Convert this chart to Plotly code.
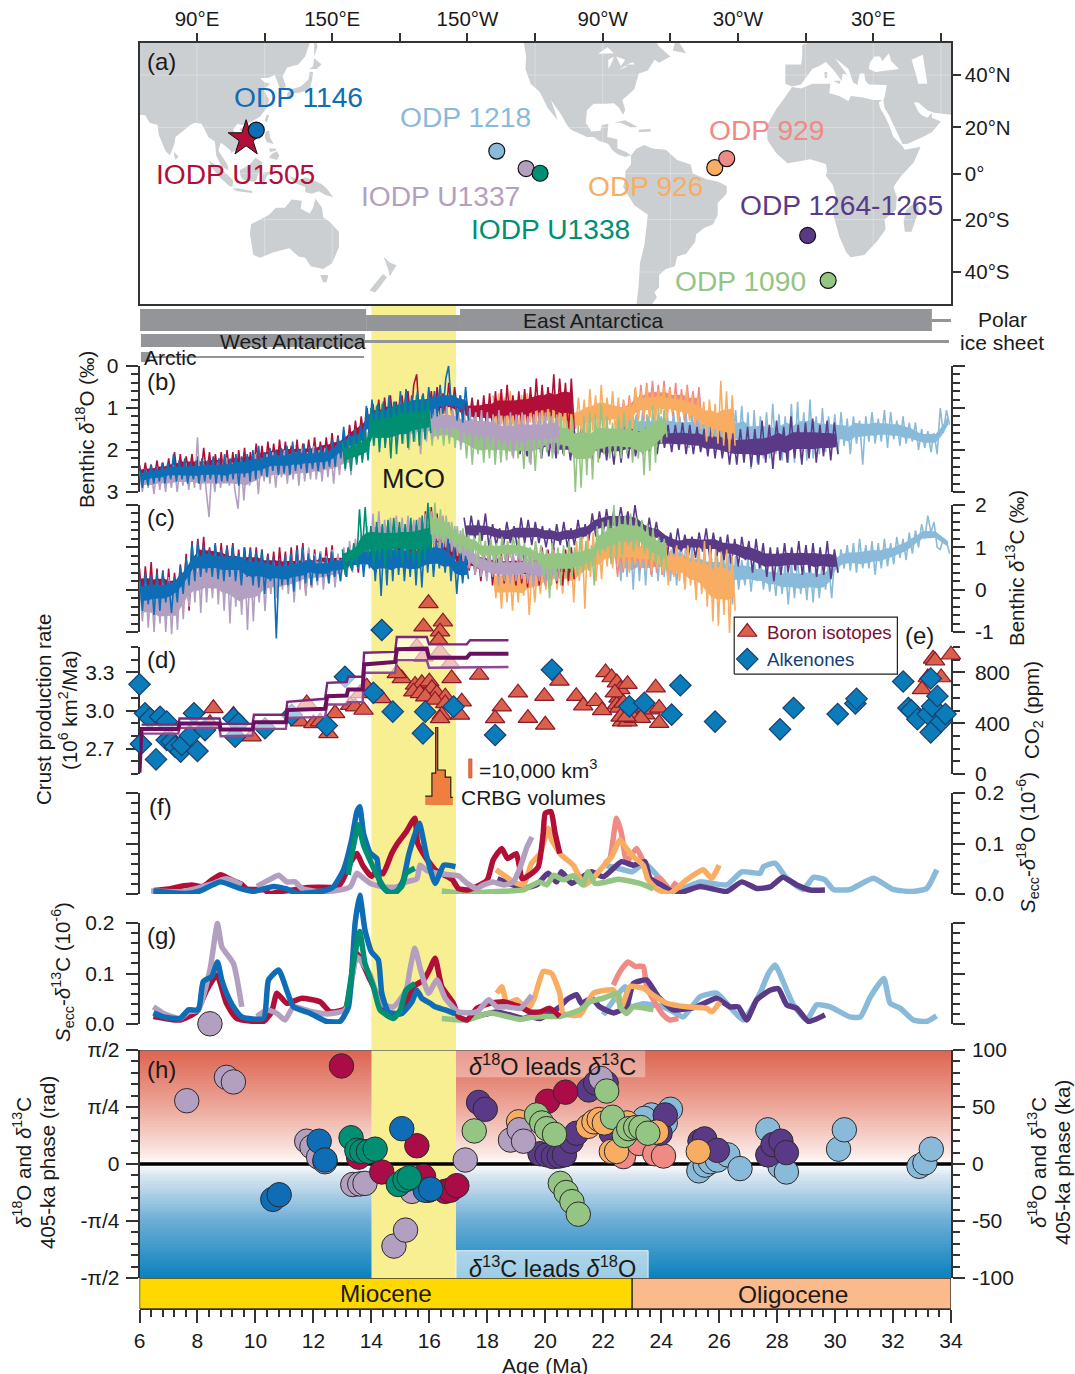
import numpy as np
import plotly.graph_objects as go

W, H = 1075, 1374
FONT = "Liberation Sans"
INK = "#1a1a1a"
AX = "#333333"

C1146, C1505, C1337, C1338 = "#0e6db5", "#b20f38", "#b3a0c1", "#008f73"
C1218, C1090, C926, C929, C1264 = "#8abada", "#94c582", "#f8ad62", "#ef8a85", "#5a3a87"

# ---------- benthic d18O (per mil), read as up/down excursions ----------
b_1146 = [2.4,2.9,2.45,2.85,2.35,2.8,2.4,2.75,2.3,2.8, 2.3,2.7,2.1,2.75,2.25,2.7,2.2,2.8,2.3,2.7,
 2.25,2.8,2.2,2.75,2.25,2.7,2.15,2.8,2.2,2.75, 2.1,2.75,2.2,2.7,2.1,2.85,2.15,2.65,2.1,2.75,
 2.0,2.7,1.9,2.6,2.05,2.65,1.95,2.5,2.0,2.6, 1.95,2.55,1.9,2.6,1.8,2.5,1.95,2.45,1.85,2.55,
 1.9,2.45,1.95,2.5,1.9,2.45,1.9,2.4,1.75,2.4, 1.7,2.2,1.45,2.1,1.6,2.15,1.5,2.0,1.4,1.9,
 0.95,1.65,0.8,1.7,0.9,1.55,0.85,1.6,0.7,1.5, 0.85,1.45,0.6,1.4,0.55,1.35,0.7,1.45,0.6,1.3,
 0.65,1.3,0.5,1.25,0.6,1.2,0.45,1.15,0.3,0.0, 1.0,0.65,1.3,0.7,1.35,0.5,1.3]
b_1337 = [2.5,3.0,2.45,2.9,2.5,3.05,2.4,2.95,2.45,3.0, 2.4,2.9,2.35,3.0,2.4,2.85,2.3,2.95,2.4,2.9,
 1.7,2.95,2.3,3.0,3.6,2.35,3.0,2.3,2.9,2.25, 2.2,2.85,2.3,3.0,3.4,2.2,3.2,2.25,2.85,2.3,
 2.1,3.05,2.2,2.75,2.1,2.8,2.05,2.9,2.2,2.65, 2.0,2.8,2.1,2.7,2.05,2.85,1.95,2.75,2.05,2.7,
 1.9,2.7,2.0,2.75,1.95,2.65,2.0,2.8,1.9,2.6, 1.8,2.5,1.75,2.6,1.65,2.3,1.6,2.2,1.4,2.1,
 1.1,1.9,1.0,1.95,1.1,1.85,1.0,1.8,1.05,1.9, 1.0,1.85,0.9,2.0,1.0,1.8,1.1,2.1,1.0,1.8,
 1.0,1.75,0.9,1.7,1.0,1.65,0.95,1.7,1.0,1.5, 1.0,1.9,1.05,1.75,1.0,1.95,1.1,1.8,1.05,2.0,
 1.1,1.9,1.15,2.05,1.05,1.9,1.2,2.0,1.1,2.2, 1.15,1.95,1.1,2.1,1.2,2.35,1.15,2.0,1.1,1.95,
 1.1,2.0,1.2,2.05,1.15,1.9]
b_1505 = [2.35,2.75,2.3,2.8,2.35,2.7,2.25,2.75,2.3,2.7, 2.2,2.7,2.05,2.65,2.1,2.75,2.15,2.6,2.1,2.7,
 2.15,2.7,1.95,2.6,2.05,2.75,2.1,2.65,2.05,2.7, 2.0,2.65,2.05,2.8,2.0,2.6,1.95,2.7,2.05,2.55,
 1.85,2.5,1.9,2.55,1.8,2.45,1.85,2.55,1.75,2.5, 1.8,2.4,1.9,2.5,1.75,2.45,1.85,2.35,1.75,2.4,
 1.7,2.35,1.8,2.4,1.7,2.3,1.6,2.3,1.65,2.2, 1.55,2.1,1.4,2.0,1.3,1.9,1.2,1.8,1.0,1.7,
 0.9,1.5,0.8,1.6,0.75,1.5,0.7,1.45,0.85,1.4, 0.7,1.4,0.6,1.3,0.45,0.2,1.35,0.7,1.3,1.25,
 0.6,1.25,0.5,1.2,0.65,1.2,0.4,1.15,0.5,1.1, 0.7,1.3,0.8,1.35,0.75,1.4,0.8,1.45,0.7,1.5,
 0.65,1.5,0.6,1.4,0.55,1.45,0.45,1.35,0.7,1.5, 0.6,1.45,0.55,1.4,0.5,1.35,0.3,1.3,0.45,1.3,
 0.5,1.25,0.2,1.45,0.3,1.2,0.4,1.6,0.3,1.5]
b_1338 = [1.8,2.45,1.75,2.5,1.7,2.35,1.65,2.3,1.55,2.25, 1.0,1.9,0.95,2.05,0.9,1.95,1.0,2.2,0.85,2.1,
 0.9,1.85,0.8,1.95,0.85,1.8,0.7,1.9,0.75,1.75, 0.8,1.6]
b_1218 = [1.0,1.7,1.1,1.8,1.0,1.6,1.15,1.9, 1.1,1.75,1.2,1.8,1.05,1.85,1.2,1.7, 1.15,1.9,1.1,1.8,1.2,1.75,1.1,1.95,
 1.1,1.9,1.2,2.0,1.1,1.85,1.25,1.95, 1.15,2.0,1.25,1.85,1.1,2.0,1.05,1.95, 0.95,2.1,1.1,2.45,1.05,2.3,1.2,2.2,
 1.1,2.2,0.9,2.1,1.15,2.25,1.2,2.3, 0.9,2.3,0.85,2.2,1.1,2.25,0.8,2.2, 1.2,2.1,1.0,2.05,1.2,1.95,1.15,2.1,
 1.1,1.9,1.25,2.1,1.2,1.85,1.3,2.35, 1.2,1.8,1.1,1.85,1.25,1.8,1.05,1.95, 1.1,1.75,1.3,1.9,1.2,1.85,1.35,1.8,
 1.35,2.0,1.5,1.95,1.55,2.05,1.6,2.1,1.0,1.6,1.05,1.4]
b_1264 = [1.5,2.1,1.6,2.15,1.55,2.0,1.6,2.2, 1.4,2.15,1.5,2.2,1.45,2.1,1.55,2.25, 1.5,2.2,1.45,2.1,1.6,2.3,1.5,2.2,
 1.5,2.25,1.6,2.35,1.55,2.3,1.45,2.2, 1.5,2.15,1.55,2.1,1.45,2.05,1.5,2.1, 1.35,1.95,1.4,2.05,1.4,2.0,1.35,2.1,
 1.4,2.1,1.45,2.05,1.5,2.15,1.45,2.2, 1.5,2.2,1.55,2.35,1.6,2.35,1.5,2.3, 1.45,2.4,1.5,2.35,1.3,2.3,1.4,2.45,
 1.3,2.25,1.45,2.3,1.2,2.2,1.4,2.35, 1.35,2.2,1.25,2.3,1.4,2.15,1.3,2.25, 1.35,2.1]
b_1090 = [1.2,1.9,1.1,1.75,1.2,1.9,1.15,1.85,1.05,1.95, 1.2,2.0,1.25,2.2,1.3,2.35,1.2,2.1,1.3,2.3,
 1.4,2.2,1.3,2.35,1.4,2.3,1.45,2.25,1.35,2.15, 1.3,2.2,1.4,2.45,1.35,2.3,1.4,2.5,1.3,2.2,
 1.2,2.05,1.1,2.2,1.3,2.1,1.15,2.15,1.3,2.05, 1.25,3.0,1.4,2.9,1.2,2.6,1.1,2.7,1.15,2.3,
 0.9,2.1,1.2,2.2,1.35,2.15,1.2,2.2,1.1,2.1, 1.3,2.3,1.25,2.2,1.3,2.6,1.15,2.5,0.95,2.3, 1.0,1.85,1.05,1.7]
b_926 = [0.7,1.5,0.65,1.4,0.75,1.5,0.6,1.4,0.8,1.5, 0.7,1.4,0.65,1.35,0.75,1.4,0.7,1.4,0.7,1.3,
 0.8,1.4,0.75,1.45,0.85,1.5,0.95,1.6,1.0,1.5, 0.75,1.6,0.8,1.7,0.55,1.55,0.7,1.6,0.45,1.5,
 0.75,1.4,0.6,1.6,0.75,1.5,0.85,1.55,0.8,1.5, 0.5,1.3,0.6,1.2,0.45,1.25,0.6,1.3,0.55,1.15,
 0.5,1.3,0.55,1.1,0.65,1.35,0.7,1.2,0.55,1.3, 0.7,1.4,0.75,1.5,0.85,1.8,0.8,1.7,0.9,1.85,
 0.35,1.9,0.6,2.05,0.7,1.9]
b_929 = [0.9,1.5,0.8,1.6,0.7,1.4,0.55,1.3,0.45,1.3, 0.4,1.2,0.35,1.2,0.45,1.1,0.35,1.25,0.5,1.2,
 0.4,1.3,0.55,1.3,0.45,1.25,0.6,1.4,0.5,1.35]

# ---------- benthic d13C (per mil) ----------
c_1146 = [0.3,-0.5,0.4,-0.35,0.35,-0.6,0.4,-0.5,0.45,-0.3, 0.2,-0.55,0.3,-0.3,0.55,-0.1,0.75,0.1,1.1,0.2,
 1.15,0.3,1.05,0.4,0.95,0.3,1.1,0.25,0.95,0.2, 1.0,0.3,1.05,0.2,0.85,0.1,1.0,0.3,0.95,0.1,
 0.9,0.05,0.95,-0.1,0.8,0.2,0.75,-1.15,0.7,0.1, 0.8,0.1,0.85,-0.05,0.95,0.2,1.0,0.15,0.85,0.1,
 0.8,0.2,0.85,0.3,0.75,0.15,0.9,0.3,0.7,0.2, 0.85,0.3,0.95,0.45,1.0,0.5,1.05,0.3,1.2,0.5,
 1.3,0.2,1.2,-0.15,1.25,0.1,1.35,0.2,1.3,0.35, 1.2,0.2,1.15,0.3,1.3,0.1,1.25,0.05,1.3,0.4,
 1.3,0.3,1.15,0.5,1.1,0.4,1.2,0.2,1.0,-0.1, 0.85,0.15,0.8,0.25]
c_1337 = [0.2,-0.75,0.3,-0.9,0.2,-1.0,0.3,-0.8,0.25,-1.0, 0.3,-1.05,0.2,-0.95,0.4,-0.7,0.55,-0.4,0.7,-0.3,
 0.95,-0.55,0.9,-0.3,0.85,-0.2,0.95,-0.35,0.9,-0.5, 0.85,-0.8,0.8,-0.4,0.8,-0.6,0.75,-0.95,0.85,-0.75,
 0.7,-0.3,0.7,-0.5,0.6,-0.1,0.65,-0.2,0.6,0.0, 0.75,-0.1,0.8,-0.3,0.9,0.0,0.95,-0.15,1.0,0.05,
 0.85,0.1,0.9,0.0,0.8,0.15,0.95,0.05,0.85,0.2, 1.0,0.3,1.15,0.4,1.2,0.5,1.3,0.5,1.5,0.6,
 1.8,0.8,1.85,0.9,1.65,1.0,1.7,0.9,1.75,1.0, 1.7,0.9,1.75,1.05,1.65,0.95,1.7,1.05,1.8,0.95,
 1.85,1.0,1.7,0.9,1.75,1.0,1.6,0.9,1.5,0.8, 1.4,0.6,1.2,0.5,1.1,0.35,0.95,0.3,0.85,0.2,
 0.85,0.3,0.9,0.1,0.8,0.2,0.85,0.15,0.9,0.2, 0.95,0.25,0.85,0.15,0.9,0.05,1.0,0.2,0.9,0.1, 0.85,0.1,0.95,0.2,0.8]
c_1505 = [0.5,-0.4,0.55,-0.3,0.65,-0.5,0.5,-0.7,0.45,-0.4, 0.5,-0.6,0.4,-0.3,0.6,-0.2,0.85,-0.5,1.15,0.0,
 1.2,0.4,1.25,0.3,1.0,0.5,1.05,0.2,1.1,0.3, 1.05,0.4,1.1,0.1,0.95,0.2,1.0,0.3,1.0,0.2,
 1.0,0.2,0.95,0.1,0.85,0.2,0.9,0.0,1.0,0.2, 0.9,0.1,1.0,0.0,1.05,0.2,1.1,-0.1,0.95,0.05,
 0.95,0.25,0.9,0.15,1.0,0.3,1.05,0.2,0.8,0.3, 0.9,0.3,1.0,0.5,1.05,0.4,1.15,0.5,1.25,0.6,
 1.3,0.4,1.35,0.5,1.4,0.6,1.3,0.5,1.45,0.6, 1.4,0.5,1.45,0.7,1.4,0.6,1.7,0.9,1.85,1.0,
 1.95,0.9,1.8,0.8,1.5,0.7,1.35,0.6,1.2,0.5, 1.1,0.4,1.0,0.45,1.05,0.35,0.9,0.2,0.95,0.3,
 0.95,0.1,0.9,0.3,0.85,0.15,0.95,0.25,0.85,0.1, 0.9,0.15,1.0,0.05,0.85,0.2,0.9,0.1,1.0,0.15,
 0.95,0.2,1.0,0.15,0.85,0.1,0.95,0.2,1.0,0.25]
c_1338 = [0.95,0.35,1.0,0.5,1.1,0.6,1.9,0.9,1.95,0.8, 1.5,0.55,1.6,0.7,1.55,0.5,1.65,0.75,1.7,0.8,
 1.6,0.6,1.55,0.75,1.7,0.65,1.65,0.5,1.75,0.7, 2.05,0.9]
c_1218 = [1.2,0.2,1.3,0.3,1.4,0.0,1.35,0.2, 1.3,0.1,1.25,0.3,1.3,0.2,1.2,0.3, 1.2,0.2,1.1,0.1,1.0,0.4,1.05,0.3,
 1.0,0.1,0.95,0.2,0.9,0.05,1.0,-0.1, 0.9,-0.1,0.85,0.1,0.9,-0.35,0.8,0.0, 0.7,0.1,0.75,-0.05,0.65,0.2,0.7,0.0,
 0.6,-0.05,0.55,-0.15,0.65,-0.1,0.6,-0.35, 0.65,-0.2,0.7,-0.1,0.55,-0.25,0.7,-0.3, 0.65,-0.2,0.7,0.0,0.6,-0.2,0.85,0.4,
 0.95,0.5,1.05,0.45,1.1,0.4,1.2,0.5, 1.05,0.5,1.15,0.35,1.1,0.5,1.2,0.55, 1.1,0.6,1.25,0.75,1.2,0.7,1.35,0.85,
 1.4,1.0,1.55,1.2,1.75,1.35,1.6,1.0,0.95,1.2,1.15,0.85]
c_1264 = [1.7,1.1,1.75,1.2,1.65,1.15,1.8,1.0, 1.55,1.05,1.45,1.0,1.6,1.1,1.5,0.95, 1.7,1.1,1.65,1.05,1.6,1.1,1.5,1.0,
 1.45,0.95,1.55,1.05,1.6,1.0,1.45,1.05, 1.65,1.1,1.55,1.15,1.8,1.25,1.85,1.3, 1.9,1.35,1.85,1.4,1.95,1.45,1.85,1.3,
 2.0,1.4,1.6,1.1,1.7,1.15,1.6,1.05, 1.3,0.8,1.35,0.85,1.45,0.9,1.3,0.8, 1.25,0.75,1.35,0.9,1.45,0.75,1.35,0.8,
 1.25,0.7,1.3,0.6,1.2,0.55,1.25,0.7, 1.15,0.4,1.2,0.5,1.1,0.3,1.0,0.2, 1.0,0.35,1.1,0.4,1.0,0.45,1.15,0.35,
 1.05,0.4,1.1,0.3,1.0,0.35,1.15,0.25,0.95,0.4]
c_1090 = [1.95,1.1,2.05,1.15,1.9,1.0,1.75,1.1,1.6,0.95, 1.5,0.8,1.45,0.9,1.3,0.85,1.25,0.6,1.35,0.75,
 1.15,0.7,1.2,0.65,1.1,0.6,1.25,0.7,1.15,0.75, 1.25,0.8,1.2,0.7,1.1,0.6,1.0,0.55,1.15,0.65,
 1.05,0.3,0.95,-0.2,1.1,0.25,1.0,0.1,1.05,0.3, 1.15,0.3,1.0,0.35,1.25,0.4,1.15,0.45,1.05,0.1,
 1.5,0.8,1.6,0.9,1.65,0.6,2.0,0.75,1.75,0.8, 1.75,1.05,1.8,0.9,1.7,1.0,1.65,0.85,1.55,0.7, 1.45,0.6,1.25,0.55,1.2,0.45]
c_926 = [0.7,-0.2,0.65,-0.45,0.6,-0.3,0.55,-0.5,0.7,-0.3, 0.6,-0.15,0.7,-0.6,0.55,-0.3,0.6,-0.1,0.7,0.0,
 0.85,0.1,0.9,0.0,0.85,-0.1,0.95,0.1,1.0,-0.3, 1.15,0.2,1.25,-0.45,1.3,0.3,1.35,0.2,1.2,0.25,
 1.3,0.55,1.4,0.5,1.45,0.6,1.35,0.5,1.3,0.4, 1.3,0.6,1.35,0.55,1.25,0.5,1.2,0.45,1.25,0.5,
 1.0,0.4,1.1,0.1,0.95,0.3,1.05,0.2,0.9,0.0, 1.05,0.1,0.85,-0.25,1.0,-0.1,1.15,-0.4,1.05,-0.75,
 0.95,-0.85,0.9,-0.6,0.95,-1.02,0.8,-0.5]
c_929 = [1.0,0.3,1.1,0.4,1.2,0.5,1.3,0.5,1.25,0.45,1.3,0.5,1.1,0.35,1.0,0.4,1.05,0.35,0.95,0.3,0.9,0.35,1.0,0.4,0.85,0.15,0.95,0.3]

# ---------- crust production ----------
crust_age_c = [6.0,6.07,7.34,7.38,8.76,8.8,9.9,9.95,11.05,11.1,12.4,12.48,13.15,13.2,13.7,13.75,14.82,14.88,15.91,15.99,17.29,17.41,18.73]
crust_mid = [2.51,2.855,2.855,2.897,2.897,2.85,2.85,2.908,2.908,3.003,3.013,3.113,3.118,3.166,3.166,3.363,3.382,3.482,3.487,3.416,3.416,3.447,3.447]
crust_age = crust_age_c[1:]
crust_up = [2.889,2.889,2.937,2.937,2.895,2.895,2.966,2.966,3.068,3.092,3.218,3.224,3.266,3.266,3.455,3.461,3.579,3.579,3.521,3.521,3.553,3.553]
crust_lo = [2.818,2.818,2.863,2.863,2.797,2.803,2.855,2.855,2.942,2.95,3.047,3.047,3.066,3.066,3.297,3.297,3.397,3.397,3.337,3.337,3.342,3.342]

# ---------- CO2 proxies ----------
boron_age = [7.0,8.55,9.24,9.87,8.43,11.77,11.54,12.0,12.23,12.52,12.75,13.27,13.44,13.73,13.61,13.84,14.36,15.05,14.88,15.97,15.8,16.47,16.37,16.32,15.8,15.57,16.37,16.72,17.72,16.77,15.51,15.74,16.0,16.09,16.26,16.55,15.45,15.68,15.86,16.2,16.55,17.12,17.06,16.43,16.37,18.5,18.27,
 19.06,19.97,20.49,19.4,20.0,21.07,21.31,21.74,21.96,22.08,22.29,22.47,22.59,22.84,22.53,22.47,22.71,22.65,22.84,22.96,23.2,23.45,23.63,23.81,23.93,23.93,22.4,22.55,22.7,22.9,23.05,22.6,23.3,22.8,33.0,33.2,33.38,33.45,33.66,34.0]
boron_ppm = [412,517,465,294,399,556,412,399,412,320,478,543,530,504,635,688,596,753,793,1344,1160,1199,1121,1055,924,1003,963,871,780,753,701,714,727,675,635,609,648,635,609,583,556,570,465,465,438,530,438,
 640,613,733,440,387,613,539,573,501,800,760,720,667,707,600,547,480,413,413,453,480,467,507,680,520,400,640,520,560,520,440,450,440,450,667,760,907,893,760,939]
alk_age = [6.0,6.19,6.36,6.71,6.94,6.05,6.57,6.94,7.11,7.23,7.42,7.46,7.74,7.88,8.0,8.26,9.24,9.41,9.3,10.33,11.25,12.46,13.09,14.07,14.36,14.74,15.86,15.78,16.84,18.27,
 20.23,22.9,23.42,24.66,24.36,25.86,28.1,28.57,30.09,30.7,30.74,32.35,32.53,32.63,32.84,33.2,33.3,33.3,33.35,33.53,33.66,33.81]
alk_ppm = [706,478,438,451,412,236,115,268,255,215,176,228,302,478,181,346,438,399,294,360,465,381,766,640,1134,491,491,320,530,307,
 821,533,560,699,467,413,352,520,472,555,592,728,520,501,432,472,328,752,533,613,413,472]

# ---------- CRBG eruption volumes (km3 per age bin) ----------
crbg_edges = [15.86,16.09,16.22,16.29,16.55,16.74,16.81]
crbg_volume = [4700,16800,41000,18400,14700,4000,4000]

# ---------- Secc-d18O ----------
f_1505_a = [6.5,7.0,7.4,7.8,8.2,8.5,8.8,9.1,9.5,9.7,10.3,10.5,10.9,11.3,11.8,12.6,12.8,13.0,13.3,13.5,13.7,14.0,14.2,14.4,14.7,14.9,15.2,15.5,15.6,15.9,16.1,16.2,16.5,16.8,17.0,17.3,17.6,18.0,18.2,18.5,18.7,19.0,19.1,19.2,19.47,19.76,19.93,20.0,20.2,20.33,20.5]
f_1505_v = [.007,.01,.015,.018,.015,.028,.038,.03,.02,.01,.008,.001,.005,.008,.013,.013,.011,.026,.064,.08,.057,.035,.047,.04,.08,.1,.123,.15,.1,.07,.055,.048,.038,.028,.011,.008,.014,.028,.067,.09,.07,.08,.057,.03,.038,.054,.12,.16,.163,.123,.08]
f_1337_a = [6.4,7.5,8.5,9.0,9.53,None,10.05,10.5,10.8,11.08,11.37,11.6,12.1,12.8,13.27,13.5,13.73,13.96,14.4,14.88,15.2,15.57,15.68,15.9,16.26,16.7,17.0,17.3,17.64,17.87,18.2,18.56,18.9,19.14,19.37,19.54]
f_1337_v = [.006,.005,.02,.03,.018,None,.015,.029,.037,.024,.024,.011,.005,.007,.014,.041,.031,.021,.014,.014,.024,.03,.057,.047,.041,.038,.036,.021,.011,.018,.024,.018,.024,.054,.093,.113]
f_1146_a = [6.48,7.63,8.09,8.78,9.47,9.93,10.62,11.08,11.43,12.35,12.69,13.04,13.32,13.5,13.6,13.73,13.96,14.19,14.3,14.6,14.88,15.1,15.3,15.65,15.9,16.2,16.5,16.9]
f_1146_v = [.006,.001,.006,.024,.011,.005,.015,.01,.001,.006,.014,.048,.107,.163,.173,.12,.081,.07,.021,.003,.005,.028,.08,.14,.077,.021,.057,.054]
f_1338_a = [13.2,13.38,13.55,13.73,14.0,14.25,14.5,14.75,15.05,15.2,15.5]
f_1338_v = [.038,.094,.137,.097,.061,.031,.008,.001,.015,.041,.051]
f_1090_a = [16.43,17.2,18.3,19.25,19.47,19.8,20.05,20.28,20.62,20.97,21.3,21.48,21.72,22.12,22.52,23.27,23.73]
f_1090_v = [.006,.001,.005,.008,.015,.024,.018,.037,.028,.036,.018,.044,.021,.024,.029,.021,.01]
f_926_a = [18.3,18.65,18.9,19.25,19.53,19.82,20.1,20.22,20.56,20.97,21.2,21.37,21.6,21.94,22.29,22.58,22.8,23.04,23.38,23.55,23.84,24.3,24.88,25.45,25.74,26.0]
f_926_v = [.048,.034,.024,.018,.061,.08,.13,.107,.077,.057,.031,.018,.028,.051,.074,.107,.09,.074,.057,.028,.01,.001,.028,.048,.031,.057]
f_929_a = [22.06,22.23,22.46,22.63,22.81,23.15,23.44,23.67,23.96,24.3,24.53]
f_929_v = [.061,.07,.15,.12,.064,.09,.057,.028,.031,.008,.024]
f_1264_a = [18.35,19.25,19.7,20.1,20.39,20.56,20.91,21.2,21.6,22.0,22.63,23.04,23.44,23.61,24.0,24.53,25.34,26.26,26.78,27.3,27.76,28.2,28.68,29.14,29.65]
f_1264_v = [.03,.012,.018,.041,.024,.044,.021,.031,.044,.034,.064,.057,.064,.031,.018,.001,.015,.005,.024,.011,.014,.033,.018,.008,.008]
f_1218_a = [22.0,22.7,23.0,23.44,24.4,25.34,26.26,26.78,27.41,27.53,27.93,28.33,28.9,29.25,29.65,29.94,30.52,31.32,32.0,32.65,33.16,33.51]
f_1218_v = [.058,.048,.044,.061,.005,.024,.018,.044,.041,.054,.061,.031,.009,.033,.028,.009,.009,.031,.009,.005,.011,.048]

# ---------- Secc-d13C ----------
g_1146_a = [6.48,6.83,7.4,7.69,8.03,8.2,8.49,8.69,8.84,9.0,9.24,9.53,10.28,10.45,10.8,11.08,11.31,11.9,12.46,12.92,13.21,13.44,13.6,13.78,14.0,14.24,14.36,14.59,15.05,15.4,15.57,15.74,16.03,16.2,16.55,16.9]
g_1146_v = [.022,.014,.011,.028,.028,.084,.094,.123,.087,.061,.034,.014,.011,.087,.107,.067,.034,.021,.005,.005,.034,.2,.255,.186,.143,.127,.061,.024,.021,.044,.067,.051,.041,.034,.028,.02]
g_1505_a = [6.48,7.4,7.97,8.32,8.67,9.0,9.35,10.28,10.56,10.74,11.08,11.6,12.23,12.58,13.1,13.5,13.96,14.42,14.65,15.05,15.45,15.8,15.97,16.2,16.43,16.83,17.0,17.3,17.64,18.1,18.56,19.14,19.47,19.82,20.16,20.5]
g_1505_v = [.015,.008,.024,.067,.097,.041,.011,.005,.024,.061,.041,.051,.044,.024,.031,.14,.087,.034,.021,.021,.074,.087,.103,.13,.074,.041,.015,.008,.031,.041,.044,.034,.024,.024,.031,.015]
g_1337_a = [6.48,6.83,7.4,7.69,8.03,8.43,8.69,8.84,9.24,9.53,None,10.05,10.39,10.74,11.02,11.31,11.9,12.5,13.1,13.5,13.96,14.3,14.76,15.2,15.33,15.5,15.7,15.97,16.26,16.55,17.0,17.64,18.05,18.33,18.68,19.14,19.54]
g_1337_v = [.034,.021,.011,.024,.028,.107,.199,.153,.12,.034,None,.015,.028,.021,.008,.034,.025,.02,.028,.133,.097,.041,.034,.067,.107,.15,.107,.061,.087,.051,.024,.024,.048,.034,.034,.031,.057]
g_1338_a = [13.15,13.38,13.6,13.78,14.07,14.3,14.76,15.0,15.2,15.5]
g_1338_v = [.034,.12,.183,.12,.074,.028,.011,.028,.067,.08]
g_1090_a = [16.43,17.3,18.1,19.14,19.47,19.95,20.5,21.2,21.54,22.0,22.52,22.58,22.8,23.04,23.73]
g_1090_v = [.011,.008,.022,.009,.013,.015,.015,.028,.044,.051,.061,.034,.021,.034,.028]
g_926_a = [18.33,18.5,18.68,19.02,19.37,19.6,19.93,20.22,20.5,20.62,21.2,21.66,22.35,22.63,22.92,23.38,23.73,24.19,24.88,25.57,25.74,26.03]
g_926_v = [.061,.074,.041,.048,.028,.048,.104,.1,.061,.021,.018,.061,.067,.034,.074,.071,.057,.041,.034,.031,.024,.044]
g_929_a = [22.35,22.58,22.86,23.1,23.38,23.5,23.8,24.07,24.3,24.59]
g_929_v = [.077,.104,.123,.114,.114,.074,.041,.018,.008,.011]
g_1264_a = [17.64,18.33,19.25,19.47,19.82,20.5,20.74,21.08,21.25,21.6,21.88,22.35,22.8,23.04,23.5,23.9,24.42,25.22,25.91,26.37,26.66,26.95,27.3,27.76,28.04,28.33,28.68,29.08,29.65]
g_1264_v = [.015,.024,.011,.015,.011,.034,.048,.058,.041,.051,.034,.022,.034,.08,.087,.054,.028,.034,.051,.034,.034,.008,.048,.067,.07,.038,.031,.005,.018]
g_1218_a = [22.0,22.12,22.75,22.92,23.37,24.07,24.42,24.76,25.34,25.91,26.37,26.83,27.41,27.7,27.93,28.33,28.56,29.02,29.37,29.83,30.52,30.87,31.22,31.68,31.9,32.25,32.7,33.16,33.5]
g_1218_v = [.018,.028,.074,.034,.04,.034,.024,.014,.054,.061,.034,.008,.061,.1,.117,.067,.038,.008,.038,.034,.014,.014,.054,.09,.041,.031,.008,.005,.016]

# ---------- 405-ka phase (ka) ----------
h_1218_a = [23.66,23.42,24.32,24.14,25.3,25.52,25.7,25.94,26.3,26.72,27.68,28.1,28.32,30.12,30.32,32.9,33.1,33.32]
h_1218_v = [43,40,48,36,-6,-1,2,3.5,8,-4,30,-2,-7,13,30,-2,1,13]
h_929_a = [22.7,23.24,23.78,24.08]
h_929_v = [6.5,18,9,7]
h_1264_a = [17.7,17.93,19.82,20.06,20.28,20.48,20.66,20.9,21.08,21.5,21.74,22.1,22.28,23.96,24.14,25.34,25.5,25.94,27.68,27.86,28.13,28.32]
h_1264_v = [54,48,9,8,6.5,7,8,20,27,65,71,71,27,27,43,20,22,12,8,17,20,10]
h_926_a = [19.08,21.48,21.68,21.86,22.04,22.82,22.28,22.46,23.84,25.28]
h_926_v = [37,33,37,39,36,36,11,11,28,11]
h_1337_a = [7.63,9.0,9.24,11.77,11.95,12.18,12.4,13.36,13.6,13.78,14.78,15.18,15.4,15.7,17.24,18.8,19.1,19.25,21.92,8.43]
h_1337_v = [55.5,76,72,20,15,6,2,-18,-17.5,-17,-72,-58,-24,-15,3.5,21,30,20,75,123]
h_1505_a = [12.97,13.56,14.36,15.57,15.8,15.97,16.55,16.72,16.95,20.08,20.7]
h_1505_v = [86,6,-7,16,-11,-23,-24,-23,-19,55,63]
h_1090_a = [17.55,19.7,19.88,20.05,20.32,20.52,20.72,20.92,21.14,22.12,22.32,22.73,22.88,23.12,23.3,23.54]
h_1090_v = [29,43,36,31,26,-17,-25,-33,-44,64,41,25,31,32,32,27]
h_1146_a = [10.6,10.82,12.2,12.4,15.05,15.86,16.05]
h_1146_v = [-31,-27,20,3.5,31,-23,-22]
h_1338_a = [13.3,13.5,13.67,13.9,14.13,14.93,15.16,15.31]
h_1338_v = [23,12,11,11,13,-18,-14,-12]

# ---------- epochs, MCO, ice sheets ----------
epoch_names = ["Miocene", "Oligocene"]
epoch_start = [6, 23]
epoch_end = [23, 34]
epoch_colors = ["#ffd800", "#fbba8c"]
mco_start, mco_end = 14.0, 16.92

# ---------- map sites (lon east, unwrapped; lat) ----------
site_names = ["ODP 1218", "IODP U1337", "IODP U1338", "ODP 926", "ODP 929", "ODP 1264-1265", "ODP 1090", "ODP 1146"]
site_lon = [223, 236, 242.2, 319.7, 325, 360.9, 370, 116.3]
site_lat = [9.9, 2.2, 0.1, 2.6, 6.6, -26.5, -42.8, 18.9]
site_col = [C1218, C1337, C1338, C926, C929, C1264, C1090, C1146]
star_lon, star_lat = [111.8], [15.3]

LAND_EAST = [
 [(64.5,50),(140,50),(138,46),(135,43.5),(130,42.5),(128,39.5),(129.5,36),(127,34.5),(126,37),(124.5,40),(121.5,39),(118,39),(120,37.5),(122.5,37),(119.5,35),(122,31),(121,28),(118,24.5),(114,22.3),(110,21),(108,21.5),(106,19),(109,14),(109,11.5),(105,9),(105,10),(102,12.5),(100.5,13.5),(99.5,10),(103.5,4),(104,1.3),(101,3),(98.5,8),(98,14),(95,16),(94,18),(92,21.5),(89,22),(87,21),(80.5,16),(80,13),(78,8),(76,10),(73,17),(72.5,21),(69,22),(67,25),(64.5,25.2)],
 [(130,31.5),(131.5,31.5),(132,33.5),(135.5,33.7),(140,35),(141,38),(141.5,41),(140,41),(139.5,38.5),(136,36),(132,35),(130,33.5)],
 [(140,42),(143,42),(145.3,43.5),(142,45.5),(141.5,43)],
 [(142,46),(143.5,49),(143,50),(142,50)],
 [(120,23),(121,22),(122,25),(121,25.2)],
 [(108.7,19),(110,18.3),(111,20),(110,20)],
 [(80,9.5),(81.8,7.5),(80.5,6),(79.8,8)],
 [(120,16),(120.6,18.5),(122,18.5),(122.3,16),(124,13),(121,13.7)],
 [(122,7),(125.5,6),(126.5,8),(125.5,9.8),(123,8.5)],
 [(122,11),(125,11),(125,10),(122.5,9.5)],
 [(109,1.5),(111,2.5),(113,3.5),(116,7),(119,5),(118,2),(117.5,0.5),(116,-3.5),(114,-3.5),(110,-2.5),(109,0)],
 [(95.3,5.5),(98,4),(103,0),(106,-3),(105.8,-5.8),(104.5,-5.8),(100,-1.5),(97,2)],
 [(105.5,-6.8),(108,-6.5),(114.5,-7.7),(114.5,-8.6),(108,-7.8)],
 [(119.5,-5.5),(120.5,-2.5),(121,-1),(125,1.5),(121,0.5),(119.5,0.5),(119,-3)],
 [(131,-1),(135,-3),(138,-1.8),(141,-2.7),(145,-4.5),(147.5,-6.5),(150.5,-10.5),(147,-9.5),(144,-7.8),(141,-9),(138,-8.3),(138,-6),(133,-4)],
 [(114,-22),(113.5,-26),(115,-34),(118,-35),(124,-33),(131,-31.5),(135,-34.5),(138,-35),(140.5,-38),(146,-39),(150,-37),(153,-31),(153,-25),(149,-21),(146,-19),(145.5,-15),(142.5,-11),(141.5,-15),(140,-17.5),(136,-15.5),(136.5,-12),(132,-11.5),(129,-15),(125,-15),(122,-18),(117,-20.5)],
 [(144.7,-41),(148.3,-41),(147.5,-43.3),(146,-43.5)],
 [(172.7,-34.5),(175.5,-36.7),(178.5,-37.7),(175.5,-41.5),(174.8,-39)],
 [(172.5,-40.7),(174.3,-41.7),(171,-45),(169,-46.6),(166.5,-46),(171,-42)],
]
LAND_WEST = [
 [(-125,50),(-124,46),(-124.3,42),(-122,37),(-118,34),(-117,32.5),(-114.5,28),(-110,23),(-111,26),(-113,31),(-109,26),(-105.5,20.5),(-104,19),(-97,16),(-94,16),(-92,14.5),(-87.5,13),(-85.5,10),(-83,8.3),(-80,7.3),(-77.5,8),(-79.5,9.5),(-83.5,11),(-83.5,15),(-88,16),(-87.5,21.5),(-90.5,21),(-91,18.6),(-95,18.3),(-97.5,22),(-97,27),(-94,29.5),(-89,29.5),(-85,29.7),(-82.8,28),(-81,25.2),(-80,27),(-81.3,31),(-76,35),(-74,40.5),(-70,41.5),(-67,45),(-65,44),(-60,46),(-65,49),(-66,50)],
 [(-59,47.8),(-53,47),(-56,50),(-58,50)],
 [(-85,22),(-80,23),(-74.5,20.2),(-77.5,20),(-82,22)],
 [(-74,19),(-69,19.5),(-68.5,18.3),(-74,18)],
 [(-77.5,8),(-75,11),(-71.5,12.5),(-68,11),(-62,10.5),(-57,6),(-51,4),(-50,0),(-44,-2.5),(-39,-3.5),(-35,-5.5),(-35,-9),(-39,-13),(-39,-18),(-41,-22),(-45,-23.5),(-48.5,-26),(-49,-29),(-53,-33.5),(-57,-34.5),(-58,-38),(-62,-39),(-65,-41),(-65,-45),(-67,-46.5),(-66,-48),(-68,-50),(-75,-50),(-74,-44),(-73.5,-37),(-71.5,-30),(-70,-18),(-76,-14),(-81,-6),(-80,-2.5),(-80,1),(-77.5,4)],
 [(1,50),(-1.5,49.5),(-1.5,46),(-2,43.5),(-9,43.5),(-9,37),(-6,36),(-2,36.7),(0,39),(3,42),(6,43),(9,44.3),(12,42),(16,38),(16.5,40.5),(18.5,40),(13,45.5),(19,42),(21,37.5),(23,36.5),(24,40.5),(26,40.5),(26.5,38),(28,36.7),(36,36.5),(35,32),(34.5,31),(35,28),(37,25),(39,21),(43,13),(45,13),(52,16),(56,18),(60,22.5),(56,24),(56,26),(54,24),(51.5,25),(50,26.5),(48,30),(50,30),(54,27),(57,26),(64.5,25.2),(64.5,50)],
 [(-6,35.8),(-10,31),(-13,27.5),(-17,21),(-17,14.7),(-13,9),(-8,4.5),(-4,5.2),(2,6.3),(9,4.2),(9.5,1),(9,-1),(12,-5),(13.5,-10),(12,-17),(15,-27),(18,-33),(20,-34.8),(26,-34),(32,-28.5),(35.5,-24),(35,-20),(40,-16),(40.5,-10.5),(39,-6),(42,-1.5),(48,5),(51,11.8),(44,10.5),(43,12),(39,16),(37,21),(35.5,24),(33,28),(32.5,30),(34,31),(30,31),(25,32),(20,32.5),(19,30.5),(15,32.5),(10.5,33.5),(11,37),(3,37),(-2,35.3)],
 [(49.5,-12),(50.3,-16),(47,-25),(44,-25),(43.5,-21),(44.5,-16)],
 [(12.5,38),(15.5,38),(15,36.8)],
 [(8.3,41),(9.6,41),(9.5,39),(8.5,39)],
 [(-5.5,50),(-3,50.5),(1,50.8),(-3,51.5)],
]
WATER_WEST = [
 [(28,42),(28.5,44),(30.5,46),(33,46),(34,44.5),(37,47),(38,44.5),(41.5,42),(36,41.5),(31,41)],
 [(47,45),(52,46.5),(53,42),(54,37),(50,37),(49,40)],
 [(-92,46.8),(-85,47),(-88,48.8)],
 [(-87.5,42),(-86,44),(-85,46),(-87.5,45)],
 [(-84,46),(-80,45),(-82,43)],
 [(-83,41.7),(-79,42.8),(-80,43)],
 [(-79.5,43.5),(-76,43.5),(-76.5,44.2)],
]

lat_ticks = [40, 20, 0, -20, -40]
lat_labels = ["40°N", "20°N", "0°", "20°S", "40°S"]
lon_ticks = [90, 120, 150, 180, 210, 240, 270, 300, 330, 360, 390, 420]
lon_labels = ["90°E", "", "150°E", "", "150°W", "", "90°W", "", "30°W", "", "30°E", ""]


def merc(lat):
    return np.log(np.tan(np.pi / 4 + np.radians(lat) / 2))


def px_x(x):
    return x / W


def px_y(y):
    return 1 - y / H


def dom(top, bottom):
    return [px_y(bottom), px_y(top)]


def seq(start, end, vals):
    return np.linspace(start, end, len(vals))


def poly(groups, shift=0):
    xs, ys = [], []
    for g in groups:
        for lon, lat in g + g[:1]:
            xs.append(lon + shift)
            ys.append(float(merc(lat)))
        xs.append(None)
        ys.append(None)
    return xs, ys


fig = go.Figure()


def line(x, y, yaxis, color, width, xaxis="x", smooth=False, **kw):
    ln = dict(color=color, width=width)
    if smooth:
        ln.update(shape="spline", smoothing=0.5)
    fig.add_trace(go.Scatter(x=x, y=y, xaxis=xaxis, yaxis=yaxis, mode="lines", cliponaxis=False,
                             showlegend=False, hoverinfo="skip", line=ln, connectgaps=False, **kw))


def noisy(a, b, vals, yaxis, color):
    """Solid core of a dense record (local median of the read excursions) plus the excursions themselves."""
    x = seq(a, b, vals)
    v = np.array(vals, dtype=float)
    n = len(v) // 2
    xm = (x[0:2 * n:2] + x[1:2 * n:2]) / 2
    c = (v[0:2 * n:2] + v[1:2 * n:2]) / 2
    h = np.abs(v[0:2 * n:2] - v[1:2 * n:2]) / 2
    cm = np.array([np.median(c[max(0, i - 2):i + 3]) for i in range(n)])
    hm = np.array([np.median(h[max(0, i - 2):i + 3]) for i in range(n)])
    top = cm + 0.42 * hm
    bot = cm - 0.42 * hm
    fig.add_trace(go.Scatter(x=list(xm) + list(xm[::-1]), y=list(top) + list(bot[::-1]), xaxis="x", yaxis=yaxis,
                             mode="none", fill="toself", fillcolor=color, showlegend=False,
                             cliponaxis=False, hoverinfo="skip"))
    line(x, v, yaxis, color, 1.6)


# ---- map ----
lx, ly = poly(LAND_EAST)
fig.add_trace(go.Scatter(x=lx, y=ly, xaxis="x2", yaxis="y10", mode="none", fill="toself",
                         fillcolor="#cbcfd1", showlegend=False, hoverinfo="skip"))
lx, ly = poly(LAND_WEST, 360)
fig.add_trace(go.Scatter(x=lx, y=ly, xaxis="x2", yaxis="y10", mode="none", fill="toself",
                         fillcolor="#cbcfd1", showlegend=False, hoverinfo="skip"))
lx, ly = poly(WATER_WEST, 360)
fig.add_trace(go.Scatter(x=lx, y=ly, xaxis="x2", yaxis="y10", mode="none", fill="toself",
                         fillcolor="#ffffff", showlegend=False, hoverinfo="skip"))
gx, gy = [], []
for lon in lon_ticks:
    gx += [lon, lon, None]
    gy += [float(merc(-50)), float(merc(50)), None]
for lat in lat_ticks:
    gx += [64.5, 424.5, None]
    gy += [float(merc(lat)), float(merc(lat)), None]
line(gx, gy, "y10", "rgba(255,255,255,0.3)", 1, xaxis="x2")
fig.add_trace(go.Scatter(x=star_lon, y=merc(np.array(star_lat)), xaxis="x2", yaxis="y10", mode="markers",
                         marker=dict(symbol="star", size=27, color=C1505, line=dict(color="#111", width=1)),
                         showlegend=False, hoverinfo="skip"))
fig.add_trace(go.Scatter(x=site_lon, y=merc(np.array(site_lat)), xaxis="x2", yaxis="y10", mode="markers",
                         marker=dict(size=16, color=site_col, line=dict(color="#111", width=1.2)),
                         showlegend=False, hoverinfo="skip"))

# dummy traces keep the visible axes of panels whose marks live on the same-scale, taller data axes
for ya in ["y2", "y3", "y5", "y4", "y7", "y9"]:
    fig.add_trace(go.Scatter(x=[6], y=[None], xaxis="x", yaxis=ya, mode="none", showlegend=False, hoverinfo="skip"))

# ---- panel b ----
for a, b, v, col in [(22.5, 33.95, b_1218, C1218), (22.5, 25.4, b_929, C929),
                     (19.0, 30.1, b_1264, C1264), (18.2, 26.55, b_926, C926),
                     (6.0, 21.0, b_1505, C1505), (16.0, 24.2, b_1090, C1090),
                     (6.0, 20.5, b_1337, C1337), (6.0, 17.35, b_1146, C1146),
                     (13.0, 16.05, b_1338, C1338)]:
    noisy(a, b, v, "y12", col)

# ---- panel c ----
for a, b, v, col in [(22.5, 33.95, c_1218, C1218), (17.2, 30.1, c_1264, C1264),
                     (22.4, 25.0, c_929, C929), (18.2, 26.55, c_926, C926),
                     (6.0, 21.0, c_1505, C1505), (6.0, 20.5, c_1337, C1337),
                     (16.0, 24.2, c_1090, C1090), (6.0, 17.35, c_1146, C1146),
                     (13.0, 16.05, c_1338, C1338)]:
    noisy(a, b, v, "y13", col)

# ---- CRBG ----
fig.add_trace(go.Scatter(x=crbg_edges, y=crbg_volume, xaxis="x", yaxis="y11", mode="lines", fill="tozeroy",
                         fillcolor="#ef7f3e", line=dict(shape="hv", color="#222", width=1.2),
                         showlegend=False, cliponaxis=False, hoverinfo="skip"))
key_age = [17.36, 17.47]
key_low = 14200
key_high = 24200
fig.add_trace(go.Scatter(x=[key_age[0], key_age[1], key_age[1], key_age[0], key_age[0]],
                         y=[key_low, key_low, key_high, key_high, key_low], xaxis="x", yaxis="y11",
                         mode="lines", fill="toself", fillcolor="#e8703c", line=dict(color="#c9503a", width=0.8),
                         showlegend=False, cliponaxis=False, hoverinfo="skip"))

# ---- panel e markers (below the crust band) ----
BORON = dict(symbol="triangle-up", size=17, color="#d9604a", line=dict(color="#8b1a2b", width=1.2))
ALK = dict(symbol="diamond", size=16.5, color="#0a7cba", line=dict(color="#1c3f6e", width=1.2))
fig.add_trace(go.Scatter(x=boron_age, y=boron_ppm, xaxis="x", yaxis="y14", mode="markers", cliponaxis=False,
                         showlegend=False, hoverinfo="skip", marker=BORON))
fig.add_trace(go.Scatter(x=alk_age, y=alk_ppm, xaxis="x", yaxis="y14", mode="markers", cliponaxis=False,
                         showlegend=False, hoverinfo="skip", marker=ALK))
# key box drawn in the panel's own age / ppm coordinates
key_box_age = [26.52, 32.15, 32.15, 26.52, 26.52]
key_box_ppm = [787, 787, 1236, 1236, 787]
fig.add_trace(go.Scatter(x=key_box_age, y=key_box_ppm, xaxis="x", yaxis="y14", mode="lines", fill="toself",
                         fillcolor="white", line=dict(color="#222", width=1.2), cliponaxis=False,
                         showlegend=False, hoverinfo="skip"))
fig.add_trace(go.Scatter(x=[26.97], y=[1118], xaxis="x", yaxis="y14", mode="markers", cliponaxis=False,
                         showlegend=False, hoverinfo="skip", marker=BORON))
fig.add_trace(go.Scatter(x=[26.97], y=[905], xaxis="x", yaxis="y14", mode="markers", cliponaxis=False,
                         showlegend=False, hoverinfo="skip", marker=ALK))

# ---- panel d crust band ----
fig.add_trace(go.Scatter(x=crust_age + crust_age[::-1], y=crust_up + crust_lo[::-1], xaxis="x", yaxis="y15",
                         mode="none", fill="toself", fillcolor="rgba(255,255,255,0.62)", showlegend=False,
                         cliponaxis=False, hoverinfo="skip"))
line(crust_age, crust_up, "y15", "#7a2a78", 2.4)
line(crust_age, crust_lo, "y15", "#8e4a90", 2.4)
line(crust_age_c, crust_mid, "y15", "#6d0f5f", 4)

# ---- panels f, g ----
for x, y, col in [(f_1218_a, f_1218_v, C1218), (f_929_a, f_929_v, C929), (f_1264_a, f_1264_v, C1264),
                  (f_926_a, f_926_v, C926), (f_1090_a, f_1090_v, C1090), (f_1505_a, f_1505_v, C1505),
                  (f_1337_a, f_1337_v, C1337), (f_1146_a, f_1146_v, C1146), (f_1338_a, f_1338_v, C1338)]:
    line(x, y, "y6", col, 5.5, smooth=True)
for x, y, col in [(g_1218_a, g_1218_v, C1218), (g_929_a, g_929_v, C929), (g_1264_a, g_1264_v, C1264),
                  (g_926_a, g_926_v, C926), (g_1090_a, g_1090_v, C1090), (g_1505_a, g_1505_v, C1505),
                  (g_1337_a, g_1337_v, C1337), (g_1146_a, g_1146_v, C1146), (g_1338_a, g_1338_v, C1338)]:
    line(x, y, "y16", col, 5.5, smooth=True)

# ---- panel h ----
grad_y = np.linspace(-100, 100, 81)
grad_z = [[(a + b) / 2] for a, b in zip(grad_y[:-1], grad_y[1:])]
scale = [[0, "#0a82bd"], [0.25, "#6cadd6"], [0.46, "#dfeaf2"], [0.5, "#ffffff"],
         [0.54, "#fbeae6"], [0.75, "#eda79a"], [1, "#dc6450"]]
for xr in ([6, mco_start], [mco_end, 34]):
    fig.add_trace(go.Heatmap(x=xr, y=grad_y, z=grad_z, xaxis="x", yaxis="y8", colorscale=scale, zmin=-100, zmax=100,
                             showscale=False, hoverinfo="skip"))
fig.add_trace(go.Scatter(x=[16.92, 23.45, 23.45, 16.92, 16.92], y=[100, 100, 76, 76, 100], xaxis="x", yaxis="y8",
                         mode="none", fill="toself", fillcolor="rgba(255,255,255,0.35)", showlegend=False, hoverinfo="skip"))
fig.add_trace(go.Scatter(x=[16.92, 16.92, 23.55, 23.55], y=[-100, -76, -76, -100], xaxis="x", yaxis="y8",
                         mode="lines", fill="toself", fillcolor="rgba(255,255,255,0.6)",
                         line=dict(color="rgba(255,255,255,0.8)", width=1), showlegend=False, hoverinfo="skip"))
line([6, 34], [100, 100], "y8", "#666666", 1.6)
line([6, 34], [0, 0], "y8", "#000000", 3.6)
for x, y, col in [(h_1218_a, h_1218_v, C1218), (h_929_a, h_929_v, C929), (h_1264_a, h_1264_v, C1264),
                  (h_926_a, h_926_v, C926), (h_1337_a, h_1337_v, C1337), (h_1505_a, h_1505_v, "#ab0c48"),
                  (h_1090_a, h_1090_v, C1090), (h_1146_a, h_1146_v, C1146), (h_1338_a, h_1338_v, C1338)]:
    fig.add_trace(go.Scatter(x=x, y=y, xaxis="x", yaxis="y17", mode="markers", cliponaxis=False, showlegend=False,
                             hoverinfo="skip", marker=dict(size=24.5, color=col, line=dict(color="#2b2b2b", width=1))))

# ---- epochs ----
for n, s, e, c in zip(epoch_names, epoch_start, epoch_end, epoch_colors):
    fig.add_trace(go.Bar(y=[0], x=[e - s], base=[s], orientation="h", xaxis="x", yaxis="y", width=1,
                         marker=dict(color=c, line=dict(color="#333", width=1.4)),
                         showlegend=False, hoverinfo="skip"))


def yax(top, bottom, rng, tickvals, ticktext, dtick, side, tick0=None, mirror="ticks", standoff=0, **kw):
    d = dict(domain=dom(top, bottom), range=rng, side=side, anchor="x", showgrid=False, zeroline=False,
             automargin=False, showline=True, linewidth=1.5, linecolor=AX, mirror=mirror,
             ticks="outside", ticklen=12, tickwidth=1.5, tickcolor=AX, ticklabelstandoff=standoff,
             tickmode="array", tickvals=tickvals, ticktext=ticktext,
             tickfont=dict(family=FONT, size=21, color=INK),
             minor=dict(ticks="outside", ticklen=7, tickwidth=1.5, tickcolor=AX, dtick=dtick,
                        tick0=rng[0] if tick0 is None else tick0))
    d.update(kw)
    return d


def hidden(top, bottom, rng):
    """Invisible axis with the same scale as a panel but taller, so off-scale marks stay visible."""
    return dict(domain=dom(top, bottom), range=rng, anchor="x", visible=False, automargin=False)


PI = np.pi
shapes = [dict(type="rect", xref="x", yref="paper", x0=mco_start, x1=mco_end, y0=px_y(1278), y1=px_y(304),
               fillcolor="#f8ef92", line=dict(width=0), layer="below")]
ice_rects = [(6.02, 13.82, 309, 331), (13.82, 17.06, 315, 331), (17.06, 33.34, 309, 331), (33.34, 34.0, 319, 322),
             (6.05, 13.78, 334, 347), (13.78, 33.93, 340, 343), (6.05, 6.36, 352, 362), (6.36, 13.75, 356, 358)]
for x0, x1, t, b in ice_rects:
    shapes.append(dict(type="rect", xref="x", yref="paper", x0=x0, x1=x1, y0=px_y(b), y1=px_y(t),
                       fillcolor="#939598", line=dict(width=0), layer="below"))

ann = []


def text(s, x, y, size=20, color=INK, anchor="left", angle=0):
    if anchor == "left":
        x -= 2
    elif anchor == "right":
        x += 2
    ann.append(dict(text=s, xref="paper", yref="paper", x=px_x(x), y=px_y(y), xanchor=anchor, yanchor="middle",
                    showarrow=False, textangle=angle, font=dict(family=FONT, size=size, color=color)))


for s, x, y, c in [("ODP 1146", 234, 97, C1146), ("IODP U1505", 156, 174, C1505), ("ODP 1218", 400, 117, C1218),
                   ("IODP U1337", 361, 196, C1337), ("IODP U1338", 471, 229, C1338), ("ODP 926", 588, 186, C926),
                   ("ODP 929", 709, 130, C929), ("ODP 1264-1265", 740, 205, C1264), ("ODP 1090", 675, 281, C1090)]:
    text(s, x, y, 28.2, c)
for s, x, y in [("(a)", 147, 61), ("(b)", 147, 382), ("(c)", 147, 517), ("(d)", 147, 659), ("(e)", 905, 635),
                ("(f)", 149, 806), ("(g)", 147, 935), ("(h)", 147, 1069)]:
    text(s, x, y, 24)
text("Boron isotopes", 767, 632, 18.7, "#7a1030")
text("Alkenones", 767, 659, 18.7, "#14407a")
text("East Antarctica", 523, 320, 21)
text("West Antarctica", 366, 341, 21, anchor="right")
text("Arctic", 144, 357, 21)
text("Polar", 1002, 319, 21, anchor="center")
text("ice sheet", 1002, 343, 21, anchor="center")
text("MCO", 413, 479, 27, anchor="center")
text("=10,000 km<sup>3</sup>", 479, 769, 21)
text("CRBG volumes", 461, 797, 21)
text("<i>δ</i><sup>18</sup>O leads <i>δ</i><sup>13</sup>C", 469, 1065, 23.5)
text("<i>δ</i><sup>13</sup>C leads <i>δ</i><sup>18</sup>O", 469, 1267, 23.5)
text("Miocene", 386, 1293, 24.3, anchor="center")
text("Oligocene", 793, 1294, 24.5, anchor="center")
text("Age (Ma)", 545, 1365, 21, anchor="center")
text("Benthic <i>δ</i><sup>18</sup>O (‰)", 85, 430, 20.5, anchor="center", angle=-90)
text("Benthic <i>δ</i><sup>13</sup>C (‰)", 1015, 568, 20.5, anchor="center", angle=-90)
text("Crust production rate", 43, 710, 20.5, anchor="center", angle=-90)
text("(10<sup>6</sup> km<sup>2</sup>/Ma)", 68, 710, 20.5, anchor="center", angle=-90)
text("CO<sub>2</sub> (ppm)", 1033, 710, 20.5, anchor="center", angle=-90)
text("<i>S</i><sub>ecc</sub>-<i>δ</i><sup>18</sup>O (10<sup>-6</sup>)", 1027, 843, 20.5, anchor="center", angle=-90)
text("<i>S</i><sub>ecc</sub>-<i>δ</i><sup>13</sup>C (10<sup>-6</sup>)", 62, 972, 20.5, anchor="center", angle=-90)
text("<i>δ</i><sup>18</sup>O and <i>δ</i><sup>13</sup>C", 22, 1163, 20.5, anchor="center", angle=-90)
text("405-ka phase (rad)", 47, 1163, 20.5, anchor="center", angle=-90)
text("<i>δ</i><sup>18</sup>O and <i>δ</i><sup>13</sup>C", 1037, 1163, 20.5, anchor="center", angle=-90)
text("405-ka phase (ka)", 1062, 1163, 20.5, anchor="center", angle=-90)

xdom = [139.5 / W, 951 / W]
layout = dict(
    width=W, height=H, autosize=False, margin=dict(l=0, r=0, t=0, b=0, pad=0),
    paper_bgcolor="white", plot_bgcolor="rgba(0,0,0,0)", barmode="overlay", showlegend=False,
    font=dict(family=FONT, color=INK),
    shapes=shapes, annotations=ann,
    xaxis=dict(domain=xdom, range=[6, 34], anchor="y", side="bottom", showgrid=False, zeroline=False, automargin=False,
               showline=True, linewidth=1.4, linecolor=AX, ticks="outside", ticklen=13, tickwidth=1.5, tickcolor=AX,
               tickmode="array", tickvals=list(range(6, 35, 2)), ticktext=[str(v) for v in range(6, 35, 2)],
               tickfont=dict(family=FONT, size=21, color=INK),
               minor=dict(ticks="outside", ticklen=7, tickwidth=1.5, tickcolor=AX, dtick=0.4, tick0=6)),
    xaxis2=dict(domain=[139.5 / W, 951 / W], range=[64.5, 424.5], anchor="y10", side="top", showgrid=False, zeroline=False, automargin=False,
                showline=True, linewidth=1.5, linecolor=AX, mirror=True, ticks="outside", ticklen=8, tickwidth=1.5, tickcolor=AX,
                ticklabelstandoff=-1,
                tickmode="array", tickvals=lon_ticks, ticktext=lon_labels,
                tickfont=dict(family=FONT, size=20.5, color=INK)),
    yaxis=dict(domain=dom(1278, 1309), range=[-0.5, 0.5], anchor="x", showticklabels=False, ticks="", automargin=False,
               showgrid=False, zeroline=False, showline=False),
    yaxis2=yax(366, 492, [3, 0], [0, 1, 2, 3], ["0", "1", "2", "3"], 0.2, "left", tick0=0, standoff=3),
    yaxis3=yax(505, 632, [-1, 2], [-1, 0, 1, 2], ["-1", "0", "1", "2"], 0.2, "right", tick0=-1, standoff=6),
    yaxis4=yax(647, 774, [2.5, 3.5], [2.7, 3.0, 3.3], ["2.7", "3.0", "3.3"], 0.1, "left", mirror=False, overlaying="y5", standoff=7),
    yaxis5=yax(647, 774, [0, 1000], [0, 400, 800], ["0", "400", "800"], 100, "right", mirror=False, standoff=6),
    yaxis6=yax(793, 894, [0, 0.2], [0, 0.1, 0.2], ["0.0", "0.1", "0.2"], 0.02, "right", standoff=6),
    yaxis7=yax(923, 1024, [0, 0.2], [0, 0.1, 0.2], ["0.0", "0.1", "0.2"], 0.02, "left", standoff=7),
    yaxis8=yax(1050, 1278, [-100, 100], [-100, -50, 0, 50, 100], ["-100", "-50", "0", "50", "100"], 10, "right", mirror=False, standoff=3),
    yaxis9=yax(1050, 1278, [-PI / 2, PI / 2], [-PI / 2, -PI / 4, 0, PI / 4, PI / 2], ["-π/2", "-π/4", "0", "π/4", "π/2"],
               PI / 20, "left", mirror=False, overlaying="y8", standoff=2),
    yaxis10=dict(domain=dom(43, 304), range=[float(merc(-50)), float(merc(50))], anchor="x2", side="right", automargin=False,
                 showgrid=False, zeroline=False, showline=True, linewidth=1.5, linecolor=AX, mirror=True,
                 ticks="outside", ticklen=8, tickwidth=1.5, tickcolor=AX, tickmode="array",
                 tickvals=[float(merc(v)) for v in lat_ticks], ticktext=lat_labels,
                 tickfont=dict(family=FONT, size=20.5, color=INK)),
    yaxis11=hidden(727, 805, [0, 41000]),
    yaxis12=hidden(356, 530, [3.905, -0.238]),
    yaxis13=hidden(495, 650, [-1.4252, 2.2362]),
    yaxis14=hidden(590, 774, [0, 1448.8]),
    yaxis15=hidden(620, 774, [2.5, 3.7126]),
    yaxis16=hidden(880, 1024, [0, 0.28515]),
    yaxis17=hidden(1000, 1278, [-100, 143.86]),
)
fig.update_layout(**layout)
fig.write_html("out.html", config={"displayModeBar": False},
               post_script="document.body.style.margin='0';document.documentElement.style.overflow='hidden';")
